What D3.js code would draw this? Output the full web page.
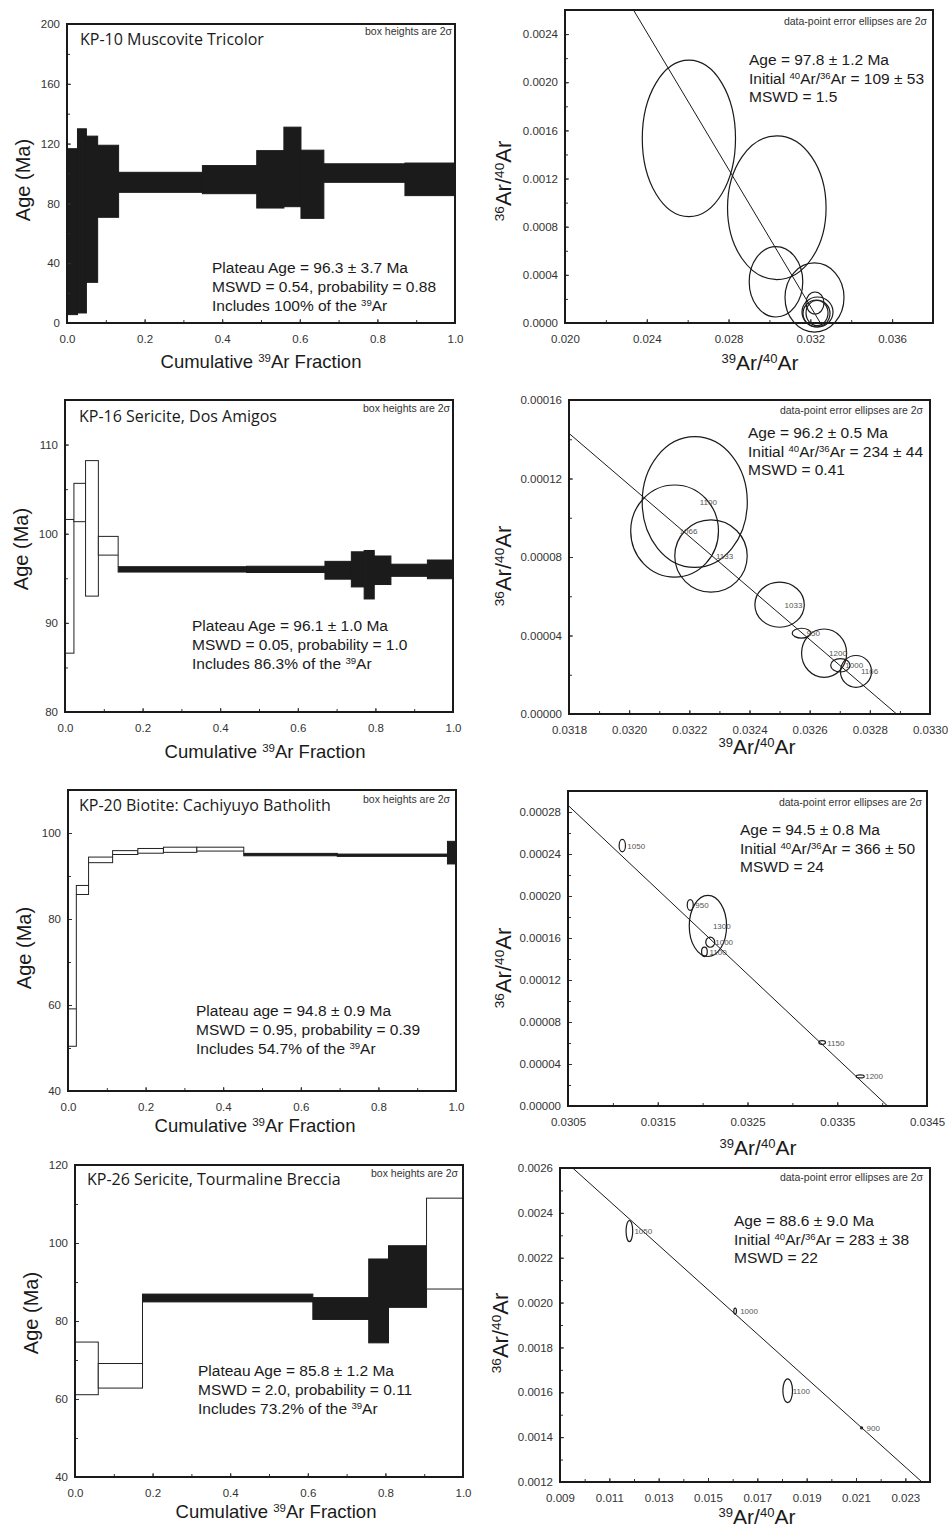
<!DOCTYPE html>
<html><head><meta charset="utf-8">
<script src="https://cdn.jsdelivr.net/npm/d3@7"></script>
<style>body{margin:0;background:#fff}</style>
</head><body>
<svg id="c" width="948" height="1531"></svg>
<script>
// ================= DATA =================
// KP-10 Muscovite Tricolor — age spectrum (cumulative 39Ar fraction boundaries, age, 2σ)
const kp10Frac = [0, 0.027, 0.050, 0.079, 0.133, 0.349, 0.489, 0.559, 0.603, 0.662, 0.871, 1.0];
const kp10Age = [61.1, 68.3, 76.1, 94.8, 94.1, 95.9, 96.1, 104.4, 92.8, 100.3, 96.1];
const kp10Err = [55.5, 61.6, 48.9, 24.1, 6.7, 9.4, 19.2, 26.6, 22.8, 6.2, 10.9];
const kp10Plateau = [1, 1, 1, 1, 1, 1, 1, 1, 1, 1, 1];
// KP-10 isochron ellipses
const kp10IsoX = [0.02606, 0.03036, 0.03032, 0.032204, 0.032229, 0.032351, 0.032302, 0.032327];
const kp10IsoY = [0.001533, 0.000958, 0.000342, 0.000212, 0.000166, 0.0000914, 0.0000789, 0.000083];
const kp10IsoSx = [0.00228, 0.00241, 0.00131, 0.001443, 0.00044, 0.000758, 0.00066, 0.000538];
const kp10IsoSy = [0.00065, 0.000597, 0.000292, 0.000287, 0.0000914, 0.0001246, 0.000112, 0.000104];
const kp10IsoLabels = ["", "", "", "", "", "", "", ""];
const kp10IsoLine = [[0.02335, 0.0026], [0.03249, 0]];

// KP-16 Sericite, Dos Amigos
const kp16Frac = [0, 0.023, 0.053, 0.086, 0.137, 0.468, 0.670, 0.738, 0.771, 0.797, 0.840, 0.934, 1.0];
const kp16Age = [94.1, 103.5, 100.6, 98.65, 96.0, 96.0, 95.9, 96.0, 95.4, 95.9, 95.9, 96.0];
const kp16Err = [7.5, 2.15, 7.6, 1.05, 0.3, 0.35, 1.0, 1.97, 2.72, 1.6, 0.68, 1.05];
const kp16Plateau = [0, 0, 0, 0, 1, 1, 1, 1, 1, 1, 1, 1];
const kp16IsoX = [0.032218, 0.032151, 0.032272, 0.0325, 0.032573, 0.032648, 0.032702, 0.032754];
const kp16IsoY = [0.000108, 0.0000932, 0.0000805, 0.0000557, 0.0000412, 0.000031, 0.0000248, 0.0000217];
const kp16IsoSx = [0.0001747, 0.0001459, 0.0001204, 0.0000821, 0.0000311, 0.0000749, 0.0000322, 0.0000516];
const kp16IsoSy = [0.0000333, 0.0000235, 0.0000184, 0.0000115, 0.0000025, 0.0000123, 0.0000034, 0.0000081];
const kp16IsoLabels = ["1100", "1066", "1133", "1033", "950", "1200", "1000", "1166"];
const kp16IsoLine = [[0.0318, 0.000143], [0.032889, 0]];

// KP-20 Biotite: Cachiyuyo Batholith
const kp20Frac = [0, 0.0215, 0.053, 0.115, 0.180, 0.246, 0.332, 0.453, 0.694, 0.978, 1.0];
const kp20Age = [54.75, 86.75, 93.75, 95.45, 95.85, 96.1, 96.25, 94.98, 94.83, 95.43];
const kp20Err = [4.35, 1.05, 0.65, 0.45, 0.55, 0.6, 0.45, 0.28, 0.27, 2.63];
const kp20Plateau = [0, 0, 0, 0, 0, 0, 0, 1, 1, 1];
const kp20IsoX = [0.031105, 0.031862, 0.032059, 0.032085, 0.03202, 0.033332, 0.033756];
const kp20IsoY = [0.000248, 0.0001915, 0.0001715, 0.000156, 0.0001468, 0.0000604, 0.0000282];
const kp20IsoSx = [0.0000353, 0.0000335, 0.000208, 0.0000502, 0.0000316, 0.0000372, 0.0000447];
const kp20IsoSy = [0.0000059, 0.0000051, 0.0000291, 0.0000048, 0.0000045, 0.0000018, 0.0000014];
const kp20IsoLabels = ["1050", "950", "1300", "1000", "1100", "1150", "1200"];
const kp20IsoLine = [[0.0305, 0.0002864], [0.034061, 0]];

// KP-26 Sericite, Tourmaline Breccia
const kp26Frac = [0, 0.060, 0.174, 0.613, 0.757, 0.808, 0.906, 1.0];
const kp26Age = [67.85, 65.95, 85.9, 83.2, 85.15, 91.4, 99.85];
const kp26Err = [6.75, 3.15, 1.0, 2.8, 10.75, 7.9, 11.65];
const kp26Plateau = [0, 0, 1, 1, 1, 1, 0];
const kp26IsoX = [0.011813, 0.0161, 0.018231, 0.021228];
const kp26IsoY = [0.002319, 0.001962, 0.001607, 0.001441];
const kp26IsoSx = [0.000135, 0.000054, 0.000196, 0.00004];
const kp26IsoSy = [0.0000469, 0.0000134, 0.0000529, 0.0000045];
const kp26IsoLabels = ["1050", "1000", "1100", "900"];
const kp26IsoLine = [[0.009514, 0.0026], [0.023676, 0.0012]];

// tick labels
const fracTicks = [0, 0.2, 0.4, 0.6, 0.8, 1.0];
const kp10AgeTicks = [0, 40, 80, 120, 160, 200];
const kp16AgeTicks = [80, 90, 100, 110];
const kp20AgeTicks = [40, 60, 80, 100];
const kp26AgeTicks = [40, 60, 80, 100, 120];
const kp10IsoXTicks = [0.020, 0.024, 0.028, 0.032, 0.036];
const kp10IsoYTicks = [0, 0.0004, 0.0008, 0.0012, 0.0016, 0.0020, 0.0024];
const kp16IsoXTicks = [0.0318, 0.0320, 0.0322, 0.0324, 0.0326, 0.0328, 0.0330];
const kp16IsoYTicks = [0, 0.00004, 0.00008, 0.00012, 0.00016];
const kp20IsoXTicks = [0.0305, 0.0315, 0.0325, 0.0335, 0.0345];
const kp20IsoYTicks = [0, 0.00004, 0.00008, 0.00012, 0.00016, 0.00020, 0.00024, 0.00028];
const kp26IsoXTicks = [0.009, 0.011, 0.013, 0.015, 0.017, 0.019, 0.021, 0.023];
const kp26IsoYTicks = [0.0012, 0.0014, 0.0016, 0.0018, 0.0020, 0.0022, 0.0024, 0.0026];

// text
const sup = s => ({ sup: s });
const kp10Stats = [["Plateau Age = 96.3 ± 3.7 Ma"], ["MSWD = 0.54, probability = 0.88"], ["Includes 100% of the ", sup("39"), "Ar"]];
const kp16Stats = [["Plateau Age = 96.1 ± 1.0 Ma"], ["MSWD = 0.05, probability = 1.0"], ["Includes 86.3% of the ", sup("39"), "Ar"]];
const kp20Stats = [["Plateau age = 94.8 ± 0.9 Ma"], ["MSWD = 0.95, probability = 0.39"], ["Includes 54.7% of the ", sup("39"), "Ar"]];
const kp26Stats = [["Plateau Age = 85.8 ± 1.2 Ma"], ["MSWD = 2.0, probability = 0.11"], ["Includes 73.2% of the ", sup("39"), "Ar"]];
const kp10IsoStats = [["Age = 97.8 ± 1.2 Ma"], ["Initial ", sup("40"), "Ar/", sup("36"), "Ar = 109 ± 53"], ["MSWD = 1.5"]];
const kp16IsoStats = [["Age = 96.2 ± 0.5 Ma"], ["Initial ", sup("40"), "Ar/", sup("36"), "Ar = 234 ± 44"], ["MSWD = 0.41"]];
const kp20IsoStats = [["Age = 94.5 ± 0.8 Ma"], ["Initial ", sup("40"), "Ar/", sup("36"), "Ar = 366 ± 50"], ["MSWD = 24"]];
const kp26IsoStats = [["Age = 88.6 ± 9.0 Ma"], ["Initial ", sup("40"), "Ar/", sup("36"), "Ar = 283 ± 38"], ["MSWD = 22"]];

// ================= DRAWING =================
const svg = d3.select("#c");
const SANS = "'Liberation Sans', Arial, sans-serif";
const HUM = "'Open Sans', 'Noto Sans', sans-serif";

function richText(g, x, y, parts, size, opts = {}) {
  const t = g.append("text").attr("x", x).attr("y", y)
    .attr("font-family", opts.family || SANS).attr("font-size", size)
    .attr("fill", opts.fill || "#1a1a1a")
    .attr("text-anchor", opts.anchor || "start");
  if (opts.rotate) t.attr("transform", `rotate(-90,${x},${y})`);
  parts.forEach(p => {
    if (typeof p === "string") t.append("tspan").text(p);
    else t.append("tspan").attr("font-size", size * 0.62).attr("baseline-shift", "super").text(p.sup);
  });
  return t;
}

function minorRange(a, b, step) {
  const n = Math.round((b - a) / step);
  return d3.range(n + 1).map(i => a + i * step);
}

function axes(g, p, x, y) {
  const bx = g.append("g").attr("transform", `translate(0,${p.bottom})`)
    .call(d3.axisBottom(x).tickValues(minorRange(p.xMinor[0], p.xMinor[1], p.xMinor[2])).tickFormat("").tickSize(-3));
  const by = g.append("g").attr("transform", `translate(${p.left},0)`)
    .call(d3.axisLeft(y).tickValues(minorRange(p.yMinor[0], p.yMinor[1], p.yMinor[2])).tickFormat("").tickSize(-3));
  const ax = g.append("g").attr("transform", `translate(0,${p.bottom})`)
    .call(d3.axisBottom(x).tickValues(p.xTicks).tickFormat(d3.format(p.xFmt)).tickSize(-4).tickPadding(12));
  const ay = g.append("g").attr("transform", `translate(${p.left},0)`)
    .call(d3.axisLeft(y).tickValues(p.yTicks).tickFormat(d3.format(p.yFmt)).tickSize(-4).tickPadding(7));
  [bx, by, ax, ay].forEach(a => {
    a.select(".domain").remove();
    a.selectAll("line").attr("stroke", "#333").attr("stroke-width", 1);
    a.selectAll("text").attr("font-family", SANS).attr("font-size", 11.5).attr("fill", "#333");
  });
  g.append("rect").attr("x", p.left).attr("y", p.top)
    .attr("width", p.right - p.left).attr("height", p.bottom - p.top)
    .attr("fill", "none").attr("stroke", "#1a1a1a").attr("stroke-width", 2);
}

function spectrum(p) {
  const g = svg.append("g");
  const x = d3.scaleLinear().domain([0, 1]).range([p.left, p.right]);
  const y = d3.scaleLinear().domain(p.yDomain).range([p.bottom, p.top]);
  const steps = p.age.map((a, i) => ({ x0: p.frac[i], x1: p.frac[i + 1], lo: a - p.err[i], hi: a + p.err[i], f: p.plateau[i] }));
  // vertical connectors between consecutive non-overlapping steps
  const links = steps.slice(1).map((s, i) => {
    const prev = steps[i];
    if (s.lo > prev.hi) return { x: s.x0, a: prev.hi, b: s.lo };
    if (s.hi < prev.lo) return { x: s.x0, a: s.hi, b: prev.lo };
    return null;
  }).filter(Boolean);
  g.selectAll("line.link").data(links).join("line").attr("class", "link")
    .attr("x1", d => x(d.x)).attr("x2", d => x(d.x))
    .attr("y1", d => y(d.a)).attr("y2", d => y(d.b))
    .attr("stroke", "#222").attr("stroke-width", 1);
  g.selectAll("rect.step").data(steps).join("rect").attr("class", "step")
    .attr("x", d => x(d.x0)).attr("width", d => x(d.x1) - x(d.x0))
    .attr("y", d => y(d.hi)).attr("height", d => y(d.lo) - y(d.hi))
    .attr("fill", d => d.f ? "#1b1b1b" : "#fff")
    .attr("stroke", d => d.f ? "#1b1b1b" : "#222").attr("stroke-width", 1);
  axes(g, { ...p, xTicks: fracTicks, xMinor: [0, 1, 0.1], xFmt: ".1f", yFmt: "d" }, x, y);
  richText(g, p.title[0], p.title[1], [p.titleText], 16, { family: HUM });
  richText(g, p.note[0], p.note[1], ["box heights are 2σ"], 10.5, { anchor: "end", fill: "#333" });
  p.stats.forEach((line, i) => richText(g, p.statPos[0], p.statPos[1] + i * 19, line, 15.5));
  richText(g, p.left - 37, p.yTitleY, ["Age (Ma)"], 20, { anchor: "middle", rotate: true });
  richText(g, p.xTitle[0], p.xTitle[1], ["Cumulative ", sup("39"), "Ar Fraction"], 18.5, { anchor: "middle" });
}

function isochron(p) {
  const g = svg.append("g");
  const x = d3.scaleLinear().domain(p.xDomain).range([p.left, p.right]);
  const y = d3.scaleLinear().domain(p.yDomain).range([p.bottom, p.top]);
  axes(g, p, x, y);
  g.append("path").datum(p.line)
    .attr("d", d3.line().x(d => x(d[0])).y(d => y(d[1])))
    .attr("fill", "none").attr("stroke", "#1a1a1a").attr("stroke-width", 1);
  const pts = p.ex.map((v, i) => ({ x: v, y: p.ey[i], sx: p.sx[i], sy: p.sy[i], label: p.labels[i] }));
  g.selectAll("ellipse").data(pts).join("ellipse")
    .attr("cx", d => x(d.x)).attr("cy", d => y(d.y))
    .attr("rx", d => x(d.x + d.sx) - x(d.x)).attr("ry", d => y(d.y) - y(d.y + d.sy))
    .attr("fill", "none").attr("stroke", "#1a1a1a").attr("stroke-width", 1.2);
  g.selectAll("text.lab").data(pts.filter(d => d.label)).join("text").attr("class", "lab")
    .attr("x", d => x(d.x) + 5).attr("y", d => y(d.y) + 3)
    .attr("font-family", SANS).attr("font-size", 8).attr("fill", "#555").text(d => d.label);
  richText(g, p.note[0], p.note[1], ["data-point error ellipses are 2σ"], 10.5, { anchor: "end", fill: "#333" });
  p.stats.forEach((line, i) => richText(g, p.statPos[0], p.statPos[1] + i * 18.5, line, 15.5));
  richText(g, p.left - p.yTitleOff, p.yTitleY, [sup("36"), "Ar/", sup("40"), "Ar"], 22, { anchor: "middle", rotate: true });
  richText(g, p.xTitle[0], p.xTitle[1], [sup("39"), "Ar/", sup("40"), "Ar"], 21, { anchor: "middle" });
}

// ---- left column: age spectra ----
spectrum({ left: 67, right: 455, top: 24, bottom: 323, yDomain: [0, 200], yTicks: kp10AgeTicks, yMinor: [0, 200, 20],
  frac: kp10Frac, age: kp10Age, err: kp10Err, plateau: kp10Plateau, titleText: "KP-10 Muscovite Tricolor",
  title: [80, 45], note: [452, 35], stats: kp10Stats, statPos: [212, 273], yTitleY: 180, xTitle: [261, 368] });
spectrum({ left: 65, right: 453, top: 400, bottom: 712, yDomain: [80, 115], yTicks: kp16AgeTicks, yMinor: [80, 115, 5],
  frac: kp16Frac, age: kp16Age, err: kp16Err, plateau: kp16Plateau, titleText: "KP-16 Sericite, Dos Amigos",
  title: [79, 422], note: [450, 412], stats: kp16Stats, statPos: [192, 631], yTitleY: 549, xTitle: [265, 758] });
spectrum({ left: 68, right: 456, top: 790, bottom: 1091, yDomain: [40, 110], yTicks: kp20AgeTicks, yMinor: [40, 110, 10],
  frac: kp20Frac, age: kp20Age, err: kp20Err, plateau: kp20Plateau, titleText: "KP-20 Biotite: Cachiyuyo Batholith",
  title: [79, 811], note: [450, 803], stats: kp20Stats, statPos: [196, 1016], yTitleY: 948, xTitle: [255, 1132] });
spectrum({ left: 75, right: 463, top: 1165, bottom: 1477, yDomain: [40, 120], yTicks: kp26AgeTicks, yMinor: [40, 120, 10],
  frac: kp26Frac, age: kp26Age, err: kp26Err, plateau: kp26Plateau, titleText: "KP-26 Sericite, Tourmaline Breccia",
  title: [87, 1185], note: [458, 1177], stats: kp26Stats, statPos: [198, 1376], yTitleY: 1313, xTitle: [276, 1518] });

// ---- right column: inverse isochrons ----
isochron({ left: 565, right: 933, top: 10, bottom: 323, xDomain: [0.020, 0.038], yDomain: [0, 0.0026],
  xTicks: kp10IsoXTicks, yTicks: kp10IsoYTicks, xMinor: [0.020, 0.038, 0.002], yMinor: [0, 0.0026, 0.0002], xFmt: ".3f", yFmt: ".4f",
  ex: kp10IsoX, ey: kp10IsoY, sx: kp10IsoSx, sy: kp10IsoSy, labels: kp10IsoLabels, line: kp10IsoLine,
  note: [927, 25], stats: kp10IsoStats, statPos: [749, 65], yTitleOff: 54, yTitleY: 181, xTitle: [760, 370] });
isochron({ left: 569, right: 930, top: 400, bottom: 714, xDomain: [0.0318, 0.0330], yDomain: [0, 0.00016],
  xTicks: kp16IsoXTicks, yTicks: kp16IsoYTicks, xMinor: [0.0318, 0.0330, 0.0001], yMinor: [0, 0.00016, 0.00002], xFmt: ".4f", yFmt: ".5f",
  ex: kp16IsoX, ey: kp16IsoY, sx: kp16IsoSx, sy: kp16IsoSy, labels: kp16IsoLabels, line: kp16IsoLine,
  note: [923, 414], stats: kp16IsoStats, statPos: [748, 438], yTitleOff: 58, yTitleY: 566, xTitle: [757, 754] });
isochron({ left: 568, right: 927, top: 791, bottom: 1106, xDomain: [0.0305, 0.0345], yDomain: [0, 0.0003],
  xTicks: kp20IsoXTicks, yTicks: kp20IsoYTicks, xMinor: [0.0305, 0.0345, 0.0005], yMinor: [0, 0.0003, 0.00002], xFmt: ".4f", yFmt: ".5f",
  ex: kp20IsoX, ey: kp20IsoY, sx: kp20IsoSx, sy: kp20IsoSy, labels: kp20IsoLabels, line: kp20IsoLine,
  note: [922, 806], stats: kp20IsoStats, statPos: [740, 835], yTitleOff: 57, yTitleY: 968, xTitle: [758, 1155] });
isochron({ left: 560, right: 930, top: 1168, bottom: 1482, xDomain: [0.009, 0.024], yDomain: [0.0012, 0.0026],
  xTicks: kp26IsoXTicks, yTicks: kp26IsoYTicks, xMinor: [0.009, 0.024, 0.001], yMinor: [0.0012, 0.0026, 0.0001], xFmt: ".3f", yFmt: ".4f",
  ex: kp26IsoX, ey: kp26IsoY, sx: kp26IsoSx, sy: kp26IsoSy, labels: kp26IsoLabels, line: kp26IsoLine,
  note: [923, 1181], stats: kp26IsoStats, statPos: [734, 1226], yTitleOff: 52, yTitleY: 1333, xTitle: [757, 1524] });
</script>
</body></html>
